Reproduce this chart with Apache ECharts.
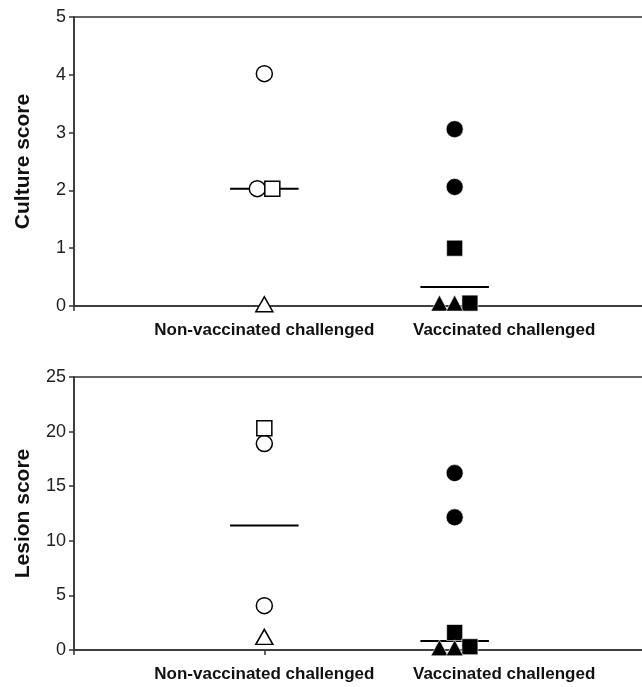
<!DOCTYPE html>
<html>
	<head>
		<meta charset="utf-8" />
		<title></title>
		<script type="text/javascript" src="https://cdn.jsdelivr.net/npm/echarts@6/dist/echarts.min.js"></script>
	</head>
	<body style="margin:0;">
		<div id="main" style="width: 642px;height: 687px;"></div>
		<script type="text/javascript">
    // groups sit at x = 1 and x = 2, small offsets where markers overlap
    var groups = ['Non-vaccinated challenged', 'Vaccinated challenged'];

    var cultureTicks = [0, 1, 2, 3, 4, 5];
    var cultureOpenCircle = [[1, 4.02], [0.963, 2.03]];
    var cultureOpenSquare = [[1.042, 2.03]];
    var cultureOpenTriangle = [[1, 0.03]];
    var cultureFilledCircle = [[2, 3.06], [2, 2.06]];
    var cultureFilledSquare = [[2, 1.0], [2.08, 0.05]];
    var cultureFilledTriangle = [[1.92, 0.05], [2, 0.05]];
    var cultureMean = [2.03, 0.33];

    var lesionTicks = [0, 5, 10, 15, 20, 25];
    var lesionOpenCircle = [[1, 18.9], [1, 4.06]];
    var lesionOpenSquare = [[1, 20.3]];
    var lesionOpenTriangle = [[1, 1.2]];
    var lesionFilledCircle = [[2, 16.2], [2, 12.15]];
    var lesionFilledSquare = [[2, 1.6], [2.08, 0.3]];
    var lesionFilledTriangle = [[1.92, 0.2], [2, 0.2]];
    var lesionMean = [11.4, 0.82];

    var font = 'Arial, "Liberation Sans", sans-serif';
    var axisColor = '#333';

	var myChart = echarts.init(document.getElementById('main'));

    function xAxisOf(gridIndex) {
      return {
        type: 'value', gridIndex: gridIndex, min: 0, max: 3,
        splitLine: { show: false },
        axisLine: { lineStyle: { color: axisColor, width: 1.5 } },
        axisTick: { customValues: [0, 1, 2, 3], length: 5, lineStyle: { color: axisColor, width: 1.5 } },
        axisLabel: {
          customValues: [1, 2.26],
          margin: 16,
          fontFamily: font, fontSize: 17, fontWeight: 'bold', color: '#111',
          formatter: function (v) { return v < 1.5 ? groups[0] : groups[1]; }
        }
      };
    }

    function yAxisOf(gridIndex, name, ticks) {
      return {
        type: 'value', gridIndex: gridIndex,
        min: ticks[0], max: ticks[ticks.length - 1], interval: ticks[1] - ticks[0],
        name: name, nameLocation: 'middle', nameGap: 40,
        nameTextStyle: { fontFamily: font, fontSize: 21, fontWeight: 'bold', color: '#111' },
        splitLine: { show: false },
        axisLine: { show: true, lineStyle: { color: axisColor, width: 1.5 } },
        axisTick: { show: true, length: 5, lineStyle: { color: axisColor, width: 1.5 } },
        axisLabel: { margin: 8, fontFamily: font, fontSize: 18, color: '#222' }
      };
    }

    function points(idx, data, symbol, size, filled) {
      return {
        type: 'scatter', xAxisIndex: idx, yAxisIndex: idx, data: data,
        symbol: symbol, symbolSize: size, clip: false, z: 3,
        itemStyle: filled
          ? { color: '#000', borderColor: '#fff', borderWidth: 0.6, opacity: 1 }
          : { color: '#fff', borderColor: '#000', borderWidth: 1.5, opacity: 1 },
        emphasis: { disabled: true }
      };
    }

    function meanLine(idx, group, value) {
      return {
        type: 'line', xAxisIndex: idx, yAxisIndex: idx,
        data: [[group - 0.18, value], [group + 0.18, value]],
        symbol: 'none', z: 2,
        lineStyle: { color: '#000', width: 2 }
      };
    }

    var series = [
      meanLine(0, 1, cultureMean[0]), meanLine(0, 2, cultureMean[1]),
      points(0, cultureOpenCircle, 'circle', 16, false),
      points(0, cultureOpenSquare, 'rect', 15, false),
      points(0, cultureOpenTriangle, 'triangle', [17, 15], false),
      points(0, cultureFilledCircle, 'circle', 17, true),
      points(0, cultureFilledSquare, 'rect', 16, true),
      points(0, cultureFilledTriangle, 'triangle', [17, 16], true),

      meanLine(1, 1, lesionMean[0]), meanLine(1, 2, lesionMean[1]),
      points(1, lesionOpenCircle, 'circle', 16, false),
      points(1, lesionOpenSquare, 'rect', 15, false),
      points(1, lesionOpenTriangle, 'triangle', [17, 15], false),
      points(1, lesionFilledCircle, 'circle', 17, true),
      points(1, lesionFilledSquare, 'rect', 16, true),
      points(1, lesionFilledTriangle, 'triangle', [17, 16], true)
    ];

    option = {
      animation: false,
      backgroundColor: '#fff',
      grid: [
        { left: 74, top: 17, width: 571, height: 289, outerBoundsMode: 'none', show: true, borderColor: axisColor, borderWidth: 1.5 },
        { left: 74, top: 377, width: 571, height: 273, outerBoundsMode: 'none', show: true, borderColor: axisColor, borderWidth: 1.5 }
      ],
      xAxis: [xAxisOf(0), xAxisOf(1)],
      yAxis: [yAxisOf(0, 'Culture score', cultureTicks), yAxisOf(1, 'Lesion score', lesionTicks)],
      series: series
    };
    myChart.setOption(option);
	</script>
	</body>

</html>
